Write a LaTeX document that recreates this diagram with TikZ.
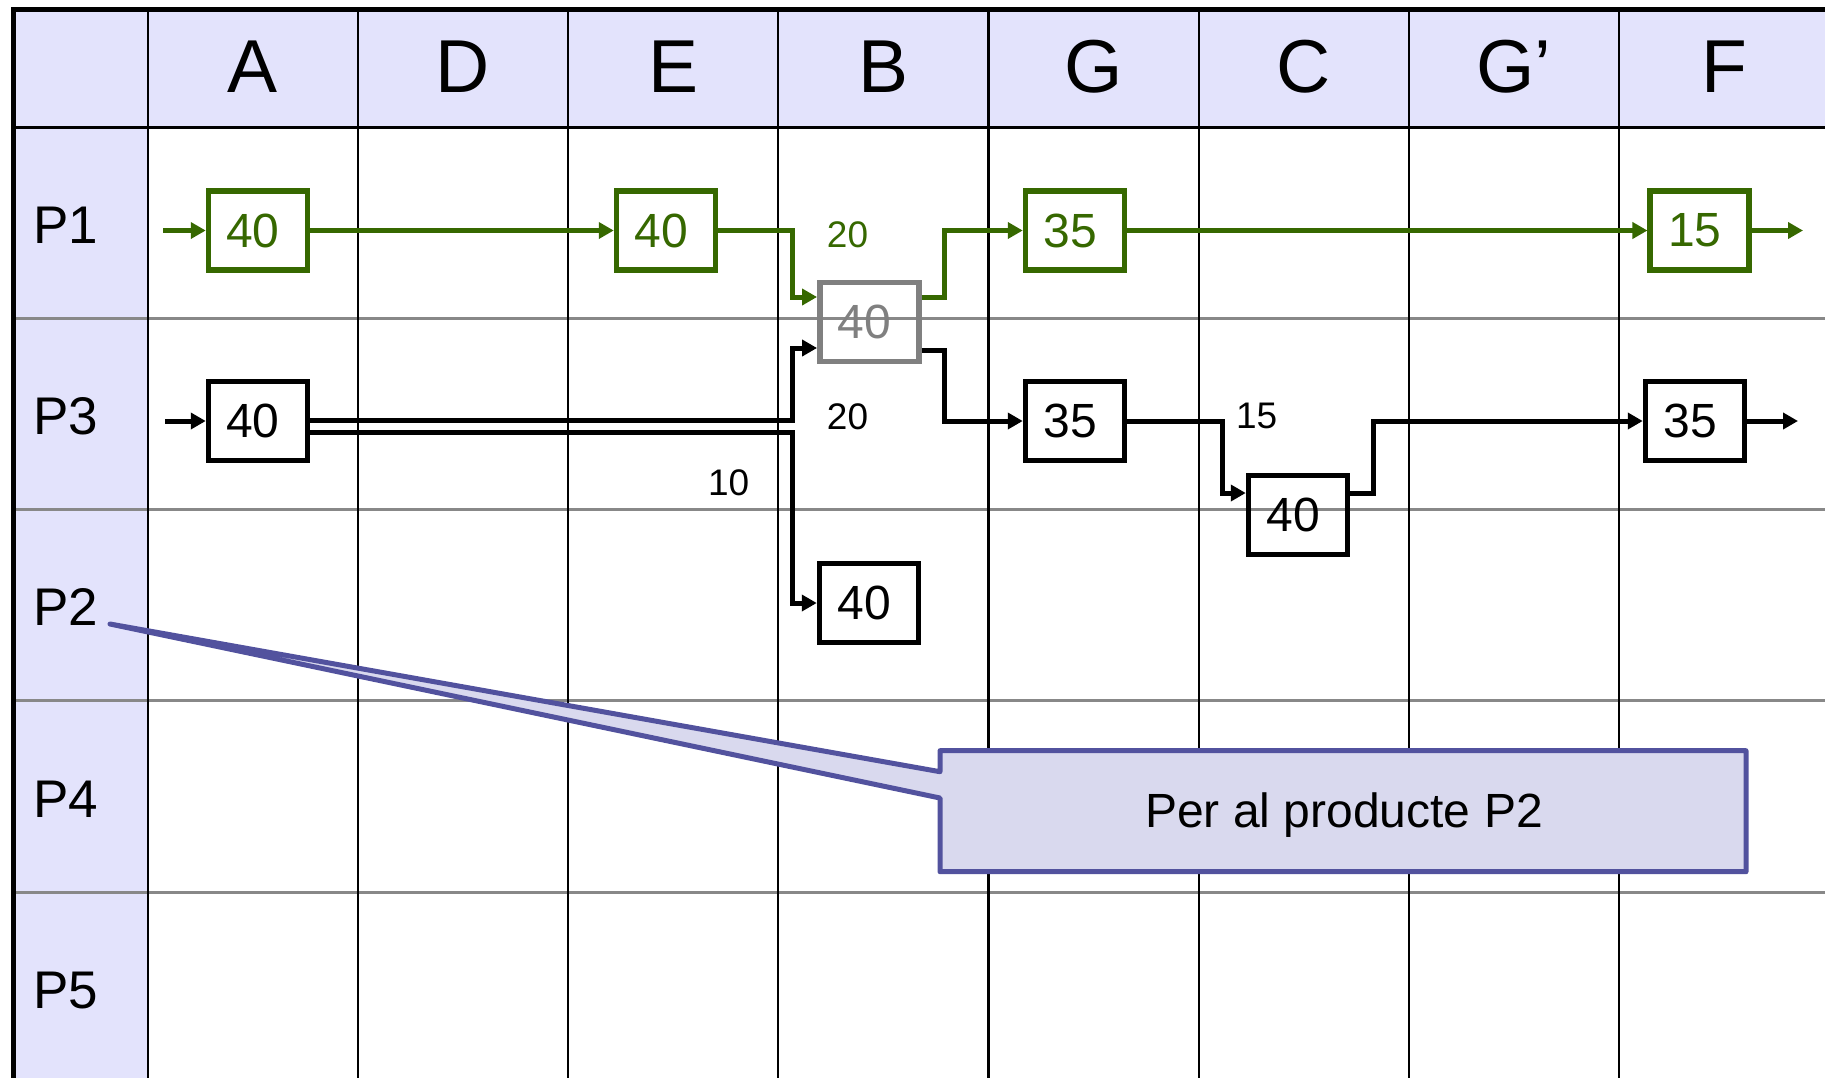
\documentclass[tikz,border=0pt]{standalone}
\usepackage{fontspec}
\setmainfont{Liberation Sans}
\usetikzlibrary{arrows.meta,calc}
\definecolor{hdr}{RGB}{227,227,252}
\definecolor{hline}{RGB}{136,136,136}
\definecolor{grn}{RGB}{54,104,0}
\definecolor{boxgray}{RGB}{128,128,128}
\definecolor{callfill}{RGB}{217,217,238}
\definecolor{calldraw}{RGB}{82,82,158}
\tikzset{
  gridv/.style={line width=2.2pt, draw=black},
  gridh/.style={line width=3pt, draw=hline},
  boxbase/.style={draw, line width=5.5pt, minimum width=99pt, minimum height=79pt,
    inner sep=0pt, font=\fontsize{48}{50}\selectfont, execute at begin node={\kern-10pt}},
  gbox/.style={boxbase, draw=grn, text=grn},
  bbox/.style={boxbase, draw=black, text=black},
  graybox/.style={boxbase, draw=boxgray, text=boxgray},
  conn/.style={line width=5pt, -{Triangle[length=15pt,width=16pt]}},
  gline/.style={conn, grn},
  bline/.style={conn, black},
  lbl/.style={inner sep=0pt, font=\fontsize{37}{40}\selectfont},
  hdrtxt/.style={inner sep=0pt, anchor=base, font=\fontsize{75}{80}\selectfont},
  rowtxt/.style={inner sep=0pt, anchor=base west, font=\fontsize{53}{56}\selectfont},
  callout/.style={fill=callfill, draw=calldraw, line width=5pt, line join=round},
}
\begin{document}
\begin{tikzpicture}[x=1pt,y=-1pt]
\useasboundingbox (0,0) rectangle (1825,1077);
\clip (0,0) rectangle (1825,1077);
% backgrounds
\fill[hdr] (13,9.5) rectangle (1835,127);
\fill[hdr] (13,127) rectangle (147.7,1090);
% horizontal row lines
\foreach \j in {1,...,4} \draw[gridh] (13,{127+191.3*\j}) -- (1835,{127+191.3*\j});
% vertical column lines
\foreach \i in {0,...,7} \draw[gridv] ({147.7+210.2*\i},9.5) -- ({147.7+210.2*\i},1090);
% header bottom line
\draw[line width=3pt] (13,127) -- (1835,127);
% outer border
\draw[line width=5pt] (13,1090) -- (13,9.5) -- (1835,9.5);
% header labels
\foreach \t [count=\i from 0] in {A,D,E,B,G,C,G’,F}
  \node[hdrtxt] (h\i) at ({252.8+210.2*\i},92.7) {\t};
% row labels
\node[rowtxt] (r1) at (33,243.2) {P1};
\node[rowtxt] (r3) at (33,434.5) {P3};
\node[rowtxt] (r2) at (33,625.8) {P2};
\node[rowtxt] (r4) at (33,817.1) {P4};
\node[rowtxt] (r5) at (33,1008.4) {P5};
% boxes
\node[gbox] (a1) at (258,230.5) {40};
\node[gbox] (e1) at (666,230.5) {40};
\node[graybox] (gb) at (869.3,322) {40};
\node[gbox] (g1) at (1075,230.5) {35};
\node[gbox] (f1) at (1699.7,230.5) {15};
\node[bbox] (a3) at (258,421) {40};
\node[bbox] (g3) at (1075,421) {35};
\node[bbox] (c3) at (1298,515) {40};
\node[bbox] (f3) at (1695,421) {35};
\node[bbox] (b2) at (869,603) {40};
% free ends
\coordinate (a1in) at (163,230.5);
\coordinate (f1out) at (1803,230.5);
\coordinate (a3in) at (165,421);
\coordinate (f3out) at (1798,421);
% green connectors
\draw[gline] (a1in) -- (a1.west);
\draw[gline] (a1.east) -- (e1.west);
\draw[gline] (e1.east) -- (792,230.5) |- ([yshift=25pt]gb.west);
\draw[gline] ([yshift=25pt]gb.east) -| (944,230.5) -- (g1.west);
\draw[gline] (g1.east) -- (f1.west);
\draw[gline] (f1.east) -- (f1out);
% black connectors
\draw[bline] (a3in) -- (a3.west);
\draw[bline] ([yshift=1pt]a3.east) -- (792,420) |- ([yshift=-26pt]gb.west);
\draw[bline] ([yshift=-11pt]a3.east) -- (792,432) |- (b2.west);
\draw[bline] ([yshift=-28pt]gb.east) -| (944,421) -- (g3.west);
\draw[bline] (g3.east) -- (1222,421) |- ([yshift=22pt]c3.west);
\draw[bline] ([yshift=22pt]c3.east) -| (1373,421) -- (f3.west);
\draw[bline] (f3.east) -- (f3out);
% quantity labels
\node[lbl, text=grn] (l20a) at (847.5,235) {20};
\node[lbl] (l20b) at (847.5,417) {20};
\node[lbl] (l15) at (1256.7,416) {15};
\node[lbl] (l10) at (728.6,483) {10};
% callout
\draw[callout] (940,750.7) -- (1746,750.7) -- (1746,871.7) -- (940,871.7) -- (940,798)
  -- (110,624) -- (940,771.7) -- cycle;
\node[inner sep=0pt, font=\fontsize{48}{52}\selectfont] (ctext) at (1344,815) {Per al producte P2};
\end{tikzpicture}
\end{document}
